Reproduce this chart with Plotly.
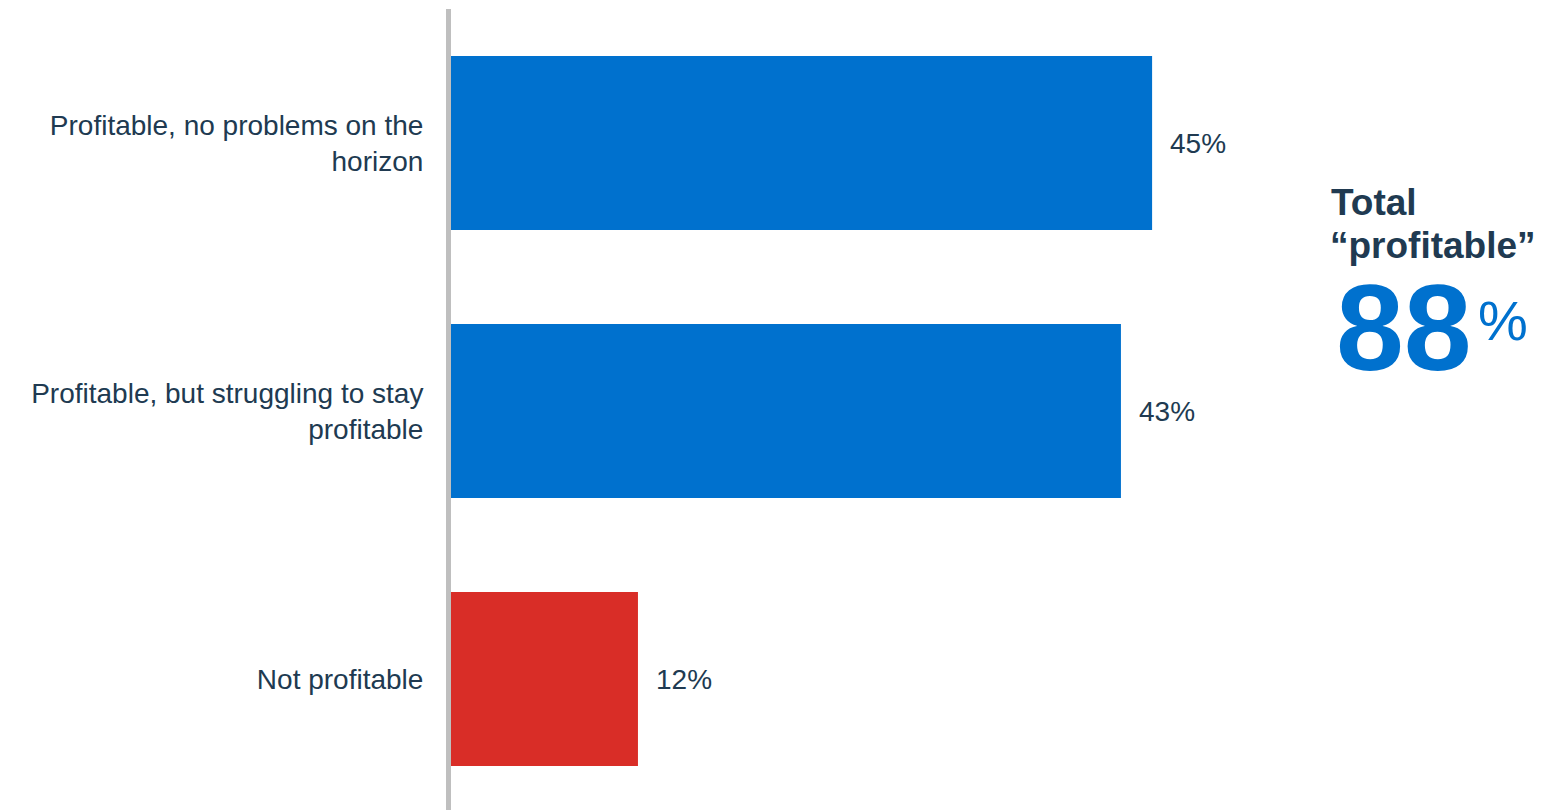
import plotly.graph_objects as go

categories = [
    "Profitable, no problems on the<br>horizon",
    "Profitable, but struggling to stay<br>profitable",
    "Not profitable",
]
values = [45, 43, 12]
bar_colors = ["#0071ce", "#0071ce", "#d92d27"]
value_labels = ["45%", "43%", "12%"]

total_label = ["Total", "\u201cprofitable\u201d"]
total_value = "88"

TEXT = "#203a51"
FONT = "Arial, Liberation Sans, sans-serif"

W, H = 1543, 810
M_L, M_R, M_T, M_B = 451, 0, 9, 0
PX_PER_UNIT = 15.58
plot_w = W - M_L - M_R
plot_h = H - M_T - M_B

fig = go.Figure(
    go.Bar(
        y=categories,
        x=values,
        orientation="h",
        marker=dict(color=bar_colors, line=dict(width=0)),
        width=0.65,
        hoverinfo="skip",
    )
)

# value labels to the right of each bar
for cat, v, lab in zip(categories, values, value_labels):
    fig.add_annotation(
        x=v, y=cat, xref="x", yref="y", text=lab, showarrow=False,
        xanchor="left", yanchor="middle", xshift=16,
        font=dict(family=FONT, size=28, color=TEXT),
    )


def px_x(px):
    return (px - M_L) / plot_w


def px_y(py):
    return 1 - (py - M_T) / plot_h


fig.add_annotation(
    x=px_x(1329), y=px_y(202), xref="paper", yref="paper", text="<b>%s</b>" % total_label[0],
    showarrow=False, xanchor="left", yanchor="middle",
    font=dict(family=FONT, size=37, color=TEXT),
)
fig.add_annotation(
    x=px_x(1328), y=px_y(245), xref="paper", yref="paper", text="<b>%s</b>" % total_label[1],
    showarrow=False, xanchor="left", yanchor="middle",
    font=dict(family=FONT, size=37, color=TEXT),
)
fig.add_annotation(
    x=px_x(1334), y=px_y(328), xref="paper", yref="paper", text="<b>%s</b>" % total_value,
    showarrow=False, xanchor="left", yanchor="middle",
    font=dict(family=FONT, size=122, color="#0071ce"),
)
fig.add_annotation(
    x=px_x(1476), y=px_y(320), xref="paper", yref="paper", text="%",
    showarrow=False, xanchor="left", yanchor="middle",
    font=dict(family=FONT, size=56, color="#0071ce"),
)

fig.update_layout(
    width=W, height=H,
    margin=dict(l=M_L, r=M_R, t=M_T, b=M_B, pad=0),
    paper_bgcolor="white", plot_bgcolor="white",
    showlegend=False,
    xaxis=dict(
        range=[0, plot_w / PX_PER_UNIT], showgrid=False, zeroline=False,
        showticklabels=False, showline=False, fixedrange=True,
    ),
    yaxis=dict(
        range=[2 + 131 / 268, -0.5], showgrid=False, zeroline=False,
        showline=True, linecolor="#bfbfbf", linewidth=5,
        ticks="", ticklabelstandoff=17,
        tickfont=dict(family=FONT, size=28, color=TEXT),
        fixedrange=True,
    ),
    bargap=0.35,
)

fig.write_html("out.html")
